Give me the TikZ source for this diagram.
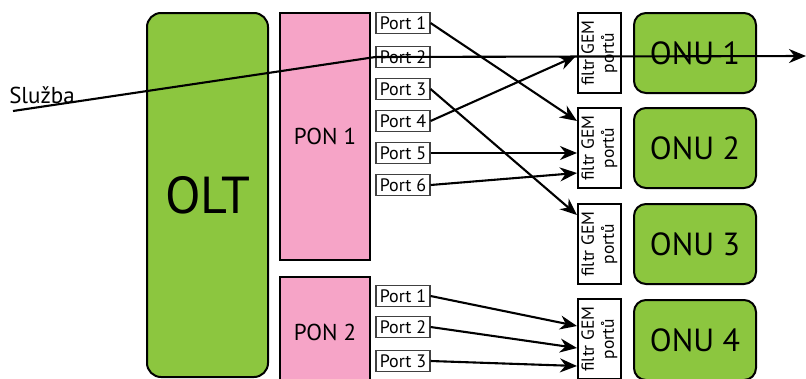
\documentclass[tikz,border=0pt]{standalone}
\usepackage{fontspec}
\setmainfont{PT Sans}
\usetikzlibrary{arrows.meta}
\definecolor{oltgreen}{RGB}{140,198,63}
\definecolor{ponpink}{RGB}{246,164,199}
\begin{document}
\begin{tikzpicture}[x=1pt,y=-1pt,
  bigbox/.style={draw=black,line width=2pt,fill=oltgreen,rounded corners=14pt,inner sep=0pt},
  onubox/.style={draw=black,line width=2pt,fill=oltgreen,rounded corners=12pt,inner sep=0pt,
     minimum width=122pt,minimum height=80pt,font=\fontsize{32}{32}\selectfont},
  ponbox/.style={draw=black,line width=2pt,fill=ponpink,inner sep=0pt,minimum width=90pt,
     font=\fontsize{23}{23}\selectfont},
  portbox/.style={draw=black!75,line width=1.1pt,fill=white,minimum width=54pt,minimum height=21pt,
     inner sep=0pt,font=\fontsize{18}{18}\selectfont},
  filtbox/.style={draw=black,line width=1.8pt,fill=white,rotate=90,minimum width=80pt,
     minimum height=43pt,inner sep=0pt,align=center,font=\fontsize{17.5}{20}\selectfont},
  arr/.style={line width=2.1pt,-{Stealth[length=17pt,width=14pt,inset=5.5pt]}}]
\useasboundingbox (0,0) rectangle (806,378);
\clip (0,0) rectangle (806,378);
% OLT and PONs
\node[bigbox,minimum width=121pt,minimum height=364pt,font=\fontsize{52}{52}\selectfont] (olt) at (207.5,195) {OLT};
\node[ponbox,minimum height=247pt] (pon1) at (325,136.5) {PON 1};
\node[ponbox,minimum height=110pt] (pon2) at (325,332) {PON 2};
% ports
\node[portbox] (p1) at (403,23) {Port 1};
\node[portbox] (p2) at (403,57) {Port 2};
\node[portbox] (p3) at (403,89) {Port 3};
\node[portbox] (p4) at (403,121) {Port 4};
\node[portbox] (p5) at (403,153) {Port 5};
\node[portbox] (p6) at (403,185) {Port 6};
\node[portbox] (q1) at (403,296) {Port 1};
\node[portbox] (q2) at (403,327) {Port 2};
\node[portbox] (q3) at (403,361) {Port 3};
% filters
\node[filtbox] (f1) at (599.5,53) {filtr GEM\\portů};
\node[filtbox] (f2) at (599.5,148) {filtr GEM\\portů};
\node[filtbox] (f3) at (599.5,244) {filtr GEM\\portů};
\node[filtbox] (f4) at (599.5,339) {filtr GEM\\portů};
% ONUs
\node[onubox] (o1) at (695,53) {ONU 1};
\node[onubox] (o2) at (695,148) {ONU 2};
\node[onubox] (o3) at (695,244) {ONU 3};
\node[onubox] (o4) at (695,340) {ONU 4};
% service label
\node[font=\fontsize{23}{23}\selectfont,inner sep=0pt] (sl) at (42,95) {Služba};
\coordinate (s0) at (13,111);
\coordinate (s1) at (806,56);
% connectors
\draw[arr] (p1.east) -- (577,121);
\draw[arr] (p3.east) -- (577,215);
\draw[arr] (p4.east) -- (576,56);
\draw[arr] (p5.east) -- (577,153);
\draw[arr] (p6.east) -- (577,173);
\draw[arr] (q1.east) -- (577,326);
\draw[arr] (q2.east) -- (577,348);
\draw[arr] (q3.east) -- (577,366);
\draw[arr] (s0) -- (p2.west) -- (s1);
\end{tikzpicture}
\end{document}
